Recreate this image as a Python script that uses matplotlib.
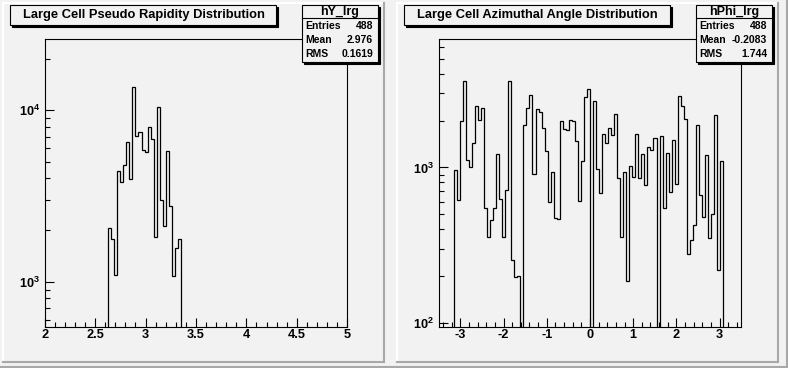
import numpy as np
import matplotlib
matplotlib.use("Agg")
import matplotlib.pyplot as plt
from matplotlib.patches import Rectangle
from matplotlib.lines import Line2D
from matplotlib.ticker import MultipleLocator, LogLocator, NullFormatter, FormatStrFormatter

plt.rcParams['font.family'] = ['Liberation Sans', 'DejaVu Sans']
plt.rcParams['font.weight'] = 'bold'
plt.rcParams['axes.unicode_minus'] = False

W, H = 788, 368
bg = '#f2f2f2'

# pseudo rapidity histogram: 100 bins on [2, 5], filled bins start at bin 21
eta_range = (2.0, 5.0)
eta_nbins = 100
eta_first_bin = 21
eta_counts = [2065, 1774, 1089, 4406, 3800, 4794, 6505, 3955, 13740, 7050, 7450, 5840,
              5690, 8025, 6770, 1813, 10410, 2980, 2120, 5810, 2750, 1075, 1577, 1766]
eta_title = "Large Cell Pseudo Rapidity Distribution"
eta_name = "hY_lrg"
eta_stats = [("Entries", "488"), ("Mean", "2.976"), ("RMS", "0.1619")]

# azimuthal angle histogram: 100 bins on [-3.5, 3.5], filled bins start at bin 5
phi_range = (-3.5, 3.5)
phi_nbins = 100
phi_first_bin = 5
phi_counts = [957, 617, 1986, 3588, 1115, 1005, 1427, 2502, 2015, 2406,
              548, 357, 459, 548, 1219, 627, 357, 716, 3588, 255,
              197, 201, 0, 1871, 2406, 2917, 907, 2371, 2279, 1790,
              1274, 599, 934, 473, 466, 1995, 1763, 1738, 2015, 1986,
              1477, 608, 1099, 2831, 3186, 0, 2668, 976, 684, 1638,
              1434, 1790, 1614, 2202, 855, 357, 934, 187, 1020, 867,
              1638, 855, 1219, 770, 1351, 1293, 1544, 0, 1590, 548,
              1237, 695, 1506, 782, 2873, 2478, 2045, 278, 342, 428,
              1862, 665, 480, 1200, 352, 502, 2169, 219, 1093]
phi_title = "Large Cell Azimuthal Angle Distribution"
phi_name = "hPhi_lrg"
phi_stats = [("Entries", "488"), ("Mean", "-0.2083"), ("RMS", "1.744")]


def fx(x):
    return x / W


def fy(y):
    return 1 - y / H


fig = plt.figure(figsize=(W / 100, H / 100), dpi=100, facecolor=bg)


def line(x0, y0, x1, y1, color, lw=1.5):
    fig.add_artist(Line2D([fx(x0), fx(x1)], [fy(y0), fy(y1)], color=color, lw=lw))


def bevel(x0, y0, x1, y1):
    line(x0, y0, x1, y0, 'white')
    line(x0, y0, x0, y1, 'white')
    line(x1, y0, x1, y1, '#a8a8a8')
    line(x0, y1, x1, y1, '#a8a8a8')


def box(x0, y0, x1, y1):
    # box with a small black shadow, ROOT style
    fig.add_artist(Rectangle((fx(x0 + 2), fy(y1 + 2)), (x1 - x0) / W, (y1 - y0) / H,
                             transform=fig.transFigure, facecolor='black', edgecolor='black', lw=0.8))
    fig.add_artist(Rectangle((fx(x0), fy(y1)), (x1 - x0) / W, (y1 - y0) / H,
                             transform=fig.transFigure, facecolor=bg, edgecolor='black', lw=0.8))


def panel(ox, rng, nbins, first, counts, ylim, major, minor, title, name, stats):
    ax = fig.add_axes([fx(ox + 44.7), fy(326.7), 302.5 / W, 287.7 / H])
    ax.set_facecolor(bg)
    edges = np.linspace(rng[0], rng[1], nbins + 1)
    vals = np.array(counts, float)
    e = edges[first:first + len(vals) + 1]
    floor = 1e-2
    ax.stairs(np.where(vals > 0, vals, floor), e, baseline=floor, color='black', lw=0.9)
    ax.set_yscale('log')
    ax.set_xlim(*rng)
    ax.set_ylim(*ylim)
    ax.xaxis.set_major_locator(MultipleLocator(major))
    ax.xaxis.set_minor_locator(MultipleLocator(minor))
    ax.xaxis.set_major_formatter(FormatStrFormatter('%g'))
    ax.yaxis.set_major_locator(LogLocator(base=10))
    ax.yaxis.set_minor_locator(LogLocator(base=10, subs=np.arange(2, 10)))
    ax.yaxis.set_minor_formatter(NullFormatter())
    ax.tick_params(which='both', direction='in', width=0.8, labelsize=9.2)
    ax.tick_params(which='major', length=6.5)
    ax.tick_params(which='minor', length=3.3)
    ax.tick_params(axis='x', pad=2.0)
    ax.tick_params(axis='y', pad=3.4)
    for s in ax.spines.values():
        s.set_linewidth(0.8)

    bevel(ox + 2.5, 2.5, ox + 383.5, 361.5)

    box(ox + 10, 4.7, ox + 276, 25)
    fig.text(fx(ox + 143.5), fy(15.2), title, ha='center', va='center', fontsize=9.3)

    bx0, bx1 = ox + 302, ox + 377.5
    box(bx0, 5.3, bx1, 62.3)
    line(bx0, 18, bx1, 18, 'black', lw=0.8)
    fig.text(fx((bx0 + bx1) / 2), fy(11.6), name, ha='center', va='center', fontsize=9.0)
    for i, (k, v) in enumerate(stats):
        yy = 26 + i * 14.2
        fig.text(fx(bx0 + 3.5), fy(yy), k, ha='left', va='center', fontsize=7.5)
        fig.text(fx(bx1 - 4.5), fy(yy), v, ha='right', va='center', fontsize=7.5)
    return ax


panel(0, eta_range, eta_nbins, eta_first_bin, eta_counts, (546, 26070), 0.5, 0.1,
      eta_title, eta_name, eta_stats)
panel(394, phi_range, phi_nbins, phi_first_bin, phi_counts, (94.3, 6710), 1.0, 0.2,
      phi_title, phi_name, phi_stats)

line(0, 367, W, 367, '#a8a8a8')
line(787, 0, 787, H, '#a8a8a8')

fig.savefig("out.png", dpi=100, facecolor=bg)
